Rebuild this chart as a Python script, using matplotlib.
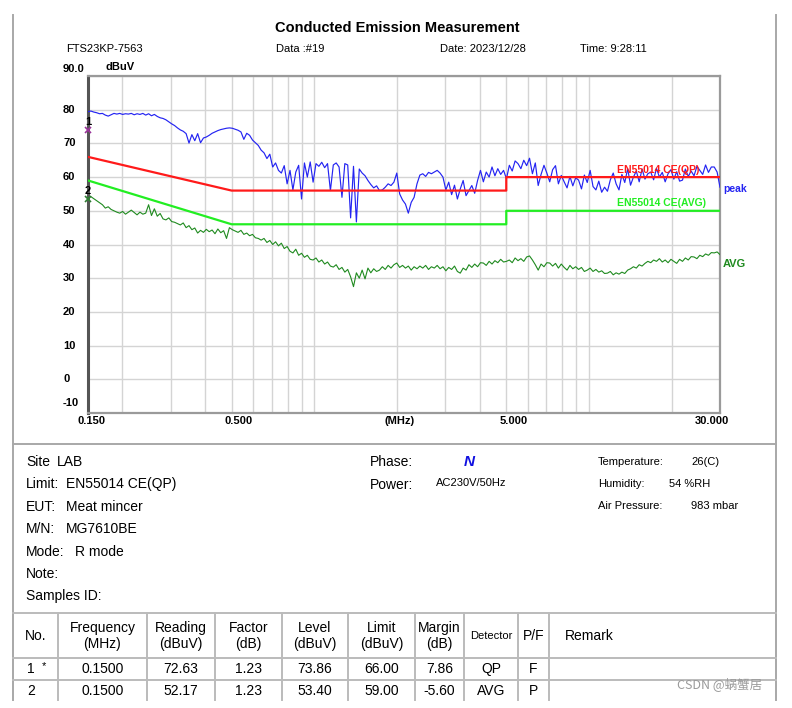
import numpy as np
import matplotlib
matplotlib.use("Agg")
import matplotlib.pyplot as plt
from matplotlib.ticker import LogLocator, NullFormatter

plt.rcParams['font.family'] = ['Liberation Sans', 'DejaVu Sans']

# ---- data ----
peak_vals = [
    79.4, 79.6, 79.3, 79.1, 78.8, 78.9, 78.4, 78.1, 78.5, 78.9,
    78.7, 78.9, 78.6, 78.8, 78.7, 78.9, 78.5, 78.8, 78.6, 78.9,
    78.4, 78.8, 78.2, 78.6, 78.0, 77.6, 77.4, 77.0, 76.4, 75.8,
    75.3, 74.6, 74.0, 73.6, 72.9, 70.1, 72.6, 70.8, 72.9, 70.2,
    71.6, 71.9, 72.4, 73.0, 73.4, 73.8, 74.1, 74.3, 74.5, 74.6,
    74.5, 74.2, 73.9, 73.4, 71.2, 73.0, 72.4, 71.0, 70.2, 69.4,
    68.0, 67.2, 65.5, 66.8, 63.0, 64.2, 62.0, 61.2, 63.4, 58.0,
    62.0, 56.2, 61.5, 63.5, 53.5, 64.2, 60.0, 64.5, 58.5, 64.0,
    63.2, 64.4, 62.8, 64.0, 56.0, 63.6, 64.2, 63.0, 54.0, 64.0,
    63.6, 47.9, 63.2, 46.7, 62.4, 61.2, 60.4, 59.0, 57.8, 56.8,
    57.4, 56.0, 56.2, 57.0, 58.0, 57.5, 58.5, 61.2, 55.0, 53.2,
    52.0, 49.3, 52.5, 54.0, 58.0, 60.6, 61.0, 60.2, 61.4, 61.0,
    61.5, 62.0, 61.2, 60.0, 56.2, 58.5, 54.8, 57.6, 53.5, 56.5,
    59.0, 54.5, 56.0, 57.5, 55.2, 59.0, 62.0, 58.6, 61.5, 60.0,
    63.0, 60.4, 62.5, 60.8, 62.0, 59.5, 63.5, 61.8, 64.8, 64.0,
    62.5, 65.0, 63.4, 65.6, 61.0, 64.2, 57.5, 60.8, 63.5, 61.2,
    58.6, 62.2, 63.4, 58.0, 60.5, 58.6, 56.8, 60.2, 57.4, 59.8,
    59.1, 56.5, 60.6, 58.4, 62.0, 57.2, 56.2, 58.8, 55.5, 57.0,
    55.8, 59.2, 61.2, 58.0, 56.2, 60.8, 58.4, 62.5, 57.6, 60.0,
    61.8, 58.6, 62.4, 59.4, 61.0, 61.5, 59.2, 62.6, 60.0, 61.4,
    58.6, 61.0, 62.2, 59.4, 61.6, 58.8, 59.1, 62.4, 60.2, 61.8,
    60.4, 63.2, 62.0, 60.8, 63.6, 61.4, 63.0, 63.0, 61.5, 57.0,
]

avg_vals = [
    53.8, 54.2, 53.6, 53.0, 52.4, 51.8, 50.8, 51.2, 50.4, 50.0,
    49.6, 49.3, 49.8, 49.0, 49.6, 50.2, 49.5, 48.8, 49.6, 49.0,
    49.3, 51.8, 48.6, 50.6, 48.4, 49.2, 47.6, 47.3, 47.9, 46.8,
    46.6, 46.2, 45.8, 46.4, 45.0, 45.6, 44.4, 44.9, 43.4, 44.2,
    43.6, 44.5, 43.8, 44.3, 43.2, 44.6, 43.5, 44.1, 41.8, 45.0,
    44.4, 44.0, 43.6, 44.2, 43.0, 43.4, 42.6, 43.0, 42.0, 41.8,
    41.3, 41.8, 40.6, 41.2, 40.0, 40.8, 39.6, 40.4, 38.8, 39.4,
    38.0, 37.5, 38.6, 36.8, 37.4, 36.2, 36.8, 35.6, 35.4, 36.0,
    34.8, 35.4, 34.2, 34.8, 33.6, 33.3, 34.0, 32.6, 33.2, 31.8,
    32.6, 30.4, 27.5, 31.6, 30.0, 32.4, 29.8, 33.0, 31.6, 32.8,
    32.0, 32.4, 33.4, 32.6, 33.8, 33.0, 34.0, 34.5, 33.2, 33.8,
    33.0, 33.6, 32.4, 33.4, 32.8, 33.6, 33.0, 33.8, 32.6, 33.4,
    33.0, 33.8, 32.8, 33.4, 32.2, 33.2, 32.6, 33.6, 32.0, 31.5,
    33.0, 32.4, 34.0, 33.2, 34.2, 33.4, 34.6, 34.5, 33.8, 35.0,
    34.2, 35.2, 34.6, 35.6, 34.8, 35.0, 35.4, 34.6, 36.0, 35.2,
    35.8, 35.0, 36.3, 36.6, 35.4, 34.0, 32.4, 34.2, 33.4, 34.6,
    34.5, 33.6, 34.4, 33.0, 34.2, 33.2, 32.4, 33.8, 32.8, 33.4,
    32.6, 33.2, 32.0, 32.4, 33.0, 32.0, 32.6, 31.8, 32.2, 31.4,
    31.5, 32.0, 31.0, 31.6, 31.2, 31.8, 31.4, 32.4, 32.8, 33.4,
    33.0, 34.0, 33.6, 34.4, 35.0, 34.6, 35.4, 35.0, 35.8, 34.8,
    35.4, 34.6, 35.6, 35.0, 34.4, 35.6, 35.0, 36.0, 35.4, 36.4,
    36.3, 35.8, 36.8, 36.4, 37.2, 36.8, 37.6, 37.5, 37.8, 37.0,
]

# receiver sweep grid (log spaced from 150 kHz to 30 MHz)
sweep_freq = np.geomspace(0.15, 30, len(peak_vals))

limit_freq = [0.15, 0.5, 5, 5, 30]
qp_limit = [66, 56, 56, 60, 60]
av_limit = [59, 46, 46, 50, 50]

marker_freq = [0.15, 0.15]
marker_level = [73.86, 53.40]
marker_name = ['1', '2']
marker_color = ['#993399', '#2E7D32']

x_tick_vals = [0.15, 0.5, 5, 30]
x_tick_text = ['0.150', '0.500', '5.000', '30.000']
y_tick_vals = list(range(0, 90, 10))

info_left = [('Site', 'LAB'), ('Limit:', 'EN55014 CE(QP)'), ('EUT:', 'Meat mincer'),
             ('M/N:', 'MG7610BE'), ('Mode:', 'R mode'), ('Note:', ''), ('Samples ID:', '')]
info_env = [('Temperature:', '26(C)'), ('Humidity:', '54 %RH'), ('Air Pressure:', '983 mbar')]

col_heads = ['No.', 'Frequency\n(MHz)', 'Reading\n(dBuV)', 'Factor\n(dB)', 'Level\n(dBuV)',
             'Limit\n(dBuV)', 'Margin\n(dB)', 'Detector', 'P/F']
rows = [
    ['1', '0.1500', '72.63', '1.23', '73.86', '66.00', '7.86', 'QP', 'F'],
    ['2', '0.1500', '52.17', '1.23', '53.40', '59.00', '-5.60', 'AVG', 'P'],
]

W, H = 792, 708
fig = plt.figure(figsize=(W / 100, H / 100), dpi=100)
fig.patch.set_facecolor('white')

# page overlay in pixel coordinates
pg = fig.add_axes([0, 0, 1, 1])
pg.set_xlim(0, W)
pg.set_ylim(H, 0)
pg.axis('off')

frame = '#A8A8A8'
pg.plot([13, 13], [15, 700], color=frame, lw=1.4)
pg.plot([776, 776], [15, 700], color=frame, lw=1.4)
pg.plot([13, 776], [444, 444], color=frame, lw=1.4)
for yy in [613, 658, 680]:
    pg.plot([13, 776], [yy, yy], color='#BBBBBB', lw=1.4)
col_lines = [58, 147, 215, 282, 348, 415, 464, 518, 549]
for xx in col_lines:
    pg.plot([xx, xx], [613, 700], color='#BBBBBB', lw=1.4)

# header
pg.text(397, 28, 'Conducted Emission Measurement', ha='center', va='center',
        fontsize=10.5, fontweight='bold')
pg.text(66, 49, 'FTS23KP-7563', ha='left', va='center', fontsize=8)
pg.text(276, 49, 'Data :#19', ha='left', va='center', fontsize=8)
pg.text(440, 49, 'Date: 2023/12/28', ha='left', va='center', fontsize=8)
pg.text(580, 49, 'Time: 9:28:11', ha='left', va='center', fontsize=8)

# info block
for k, (lab, val) in enumerate(info_left):
    y = 462 + k * 22.4
    pg.text(26, y, lab, ha='left', va='center', fontsize=10)
    if val:
        xv = {'Site': 57, 'Mode:': 75}.get(lab, 66)
        pg.text(xv, y, val, ha='left', va='center', fontsize=10)
pg.text(370, 462, 'Phase:', ha='left', va='center', fontsize=10)
pg.text(464, 462, 'N', ha='left', va='center', fontsize=11, color='#1010E0',
        fontweight='bold', fontstyle='italic')
pg.text(370, 485, 'Power:', ha='left', va='center', fontsize=10)
pg.text(436, 483, 'AC230V/50Hz', ha='left', va='center', fontsize=8)
env_x = {'Temperature:': 691, 'Humidity:': 669, 'Air Pressure:': 691}
for k, (lab, val) in enumerate(info_env):
    y = 462 + k * 22
    pg.text(598, y, lab, ha='left', va='center', fontsize=8)
    pg.text(env_x[lab], y, val, ha='left', va='center', fontsize=8)

# table
edges = [13] + col_lines
centers = [(a + b) / 2 for a, b in zip(edges[:-1], edges[1:])]
for cx, head in zip(centers, col_heads):
    fs = 8 if head == 'Detector' else 10
    pg.text(cx, 636, head, ha='center', va='center', fontsize=fs, linespacing=1.25)
pg.text(565, 636, 'Remark', ha='left', va='center', fontsize=10)
for r, row in enumerate(rows):
    y = 669 + r * 22
    for c, (cx, cell) in enumerate(zip(centers, row)):
        if c == 0:
            pg.text(31, y, cell, ha='center', va='center', fontsize=10)
            if r == 0:
                pg.text(44, y - 3, '*', ha='center', va='center', fontsize=8)
        else:
            pg.text(cx, y, cell, ha='center', va='center', fontsize=10)

pg.text(720, 684, 'CSDN @蜗蟹居', ha='center', va='center', fontsize=9,
        color='#9A9A9A', family=['Noto Sans CJK SC', 'DejaVu Sans'])

# ---- the chart ----
ax = fig.add_axes([88 / W, 1 - 413 / H, 632 / W, 337 / H])
ax.set_xscale('log')
ax.set_xlim(0.15, 30)
ax.set_ylim(-10, 90)
ax.xaxis.set_major_locator(LogLocator(base=10, subs=range(1, 10)))
ax.xaxis.set_minor_locator(LogLocator(base=10, subs=range(1, 10)))
ax.xaxis.set_major_formatter(NullFormatter())
ax.xaxis.set_minor_formatter(NullFormatter())
ax.set_yticks(range(-10, 91, 10))
ax.set_yticklabels([])
ax.tick_params(which='both', length=0)
ax.grid(True, which='both', color='#D4D4D4', lw=1.0)
ax.set_axisbelow(True)
for side in ['top', 'right', 'bottom']:
    ax.spines[side].set_color('#9A9A9A')
    ax.spines[side].set_linewidth(1.6)
ax.spines['left'].set_color('#555555')
ax.spines['left'].set_linewidth(2.2)

ax.plot(sweep_freq, peak_vals, color='#2424F2', lw=0.85, zorder=3)
ax.plot(sweep_freq, avg_vals, color='#1F8A1F', lw=0.8, zorder=3)
ax.plot(limit_freq, qp_limit, color='#FF1A1A', lw=1.6, zorder=4)
ax.plot(limit_freq, av_limit, color='#22EE22', lw=1.6, zorder=4)

for f, lv, nm, col in zip(marker_freq, marker_level, marker_name, marker_color):
    ax.plot(f, lv, marker='x', color=col, ms=5, mew=1.2, zorder=6, clip_on=False)
    ax.annotate(nm, (f, lv), xytext=(0, 8), textcoords='offset pixels',
                ha='center', va='center', fontsize=8, fontweight='bold',
                annotation_clip=False)

# tick labels placed as in the report
tick_font = dict(fontsize=8, fontweight='bold', annotation_clip=False)
lab_off = {'0.150': 4, '0.500': 7, '5.000': 7, '30.000': -8}
for v, t in zip(x_tick_vals, x_tick_text):
    ax.annotate(t, (v, 0), xycoords=('data', 'axes fraction'), xytext=(lab_off[t], -8),
                textcoords='offset pixels', ha='center', va='center', **tick_font)
ax.annotate('(MHz)', (2.05, 0), xycoords=('data', 'axes fraction'), xytext=(0, -8),
            textcoords='offset pixels', ha='center', va='center', **tick_font)
for v in y_tick_vals:
    ax.annotate(str(v), (0, v), xycoords=('axes fraction', 'data'), xytext=(-25, 0),
                textcoords='offset pixels', ha='left', va='center', **tick_font)
ax.annotate('-10', (0, -10), xycoords=('axes fraction', 'data'), xytext=(-25, 10),
            textcoords='offset pixels', ha='left', va='center', **tick_font)
ax.annotate('90.0', (0, 90), xycoords=('axes fraction', 'data'), xytext=(-25, 7),
            textcoords='offset pixels', ha='left', va='center', **tick_font)
ax.annotate('dBuV', (0, 90), xycoords=('axes fraction', 'data'), xytext=(17, 9),
            textcoords='offset pixels', ha='left', va='center', **tick_font)

# trace / limit names
ax.annotate('peak', (1, 56.5), xycoords=('axes fraction', 'data'), xytext=(3, 0),
            textcoords='offset pixels', ha='left', va='center', fontsize=7.5,
            fontweight='bold', color='#2424F2', annotation_clip=False)
ax.annotate('AVG', (1, 34.2), xycoords=('axes fraction', 'data'), xytext=(3, 0),
            textcoords='offset pixels', ha='left', va='center', fontsize=8,
            fontweight='bold', color='#1F8A1F', annotation_clip=False)
ax.text(12.6, 62.2, 'EN55014 CE(QP)', ha='left', va='center', fontsize=7.5,
        fontweight='bold', color='#FF1A1A', zorder=5)
ax.text(12.6, 52.4, 'EN55014 CE(AVG)', ha='left', va='center', fontsize=7.5,
        fontweight='bold', color='#22EE22', zorder=5)

fig.savefig('out.png', dpi=100)
